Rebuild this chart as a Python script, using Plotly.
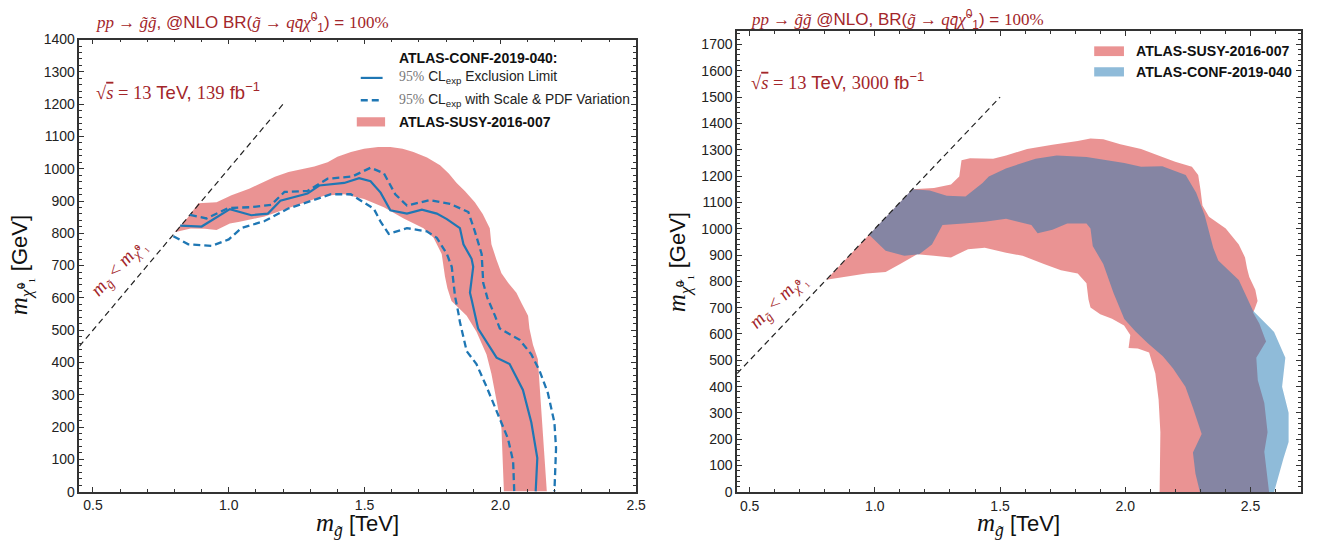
import plotly.graph_objects as go

W, H = 1327, 554

# ---------------- left panel: sqrt(s)=13 TeV, 139 fb^-1 ----------------
# ATLAS-SUSY-2016-007 excluded band (outer edge, then inner edge back to the tip)
left_susy_x = [0.80, 0.85, 0.888, 0.955, 1.010, 1.075, 1.17, 1.22, 1.315, 1.364, 1.40, 1.45,
               1.498, 1.55, 1.595, 1.64, 1.68, 1.73, 1.778, 1.81, 1.839, 1.87, 1.906, 1.935,
               1.961, 1.967, 1.985, 2.004, 2.03, 2.059, 2.08, 2.102, 2.107, 2.12, 2.138, 2.144,
               2.15, 2.156, 2.162, 2.171,
               2.013, 2.01, 2.004, 1.992, 1.98, 1.967, 1.949, 1.912, 1.876, 1.845, 1.82, 1.805,
               1.796, 1.784, 1.754, 1.717, 1.644, 1.571, 1.498, 1.425, 1.351, 1.229, 1.132,
               1.04, 1.004, 0.955, 0.912, 0.86, 0.80]
left_susy_y = [803, 850, 893, 896, 918, 938, 975, 990, 1007, 1020, 1037, 1052,
               1062, 1067, 1067, 1062, 1052, 1035, 1011, 985, 956, 930, 896, 860,
               816, 766, 720, 676, 645, 616, 580, 545, 505, 455, 410, 335,
               260, 195, 94, 0,
               0, 94, 195, 255, 305, 365, 425, 495, 545, 570, 590, 630,
               666, 736, 786, 816, 846, 881, 906, 921, 916, 881, 852,
               836, 830, 810, 814, 815, 803]

# ATLAS-CONF-2019-040 expected exclusion limit
limit_x = [0.821, 0.900, 1.004, 1.083, 1.144, 1.19, 1.29, 1.333, 1.425, 1.48, 1.522, 1.559,
           1.595, 1.656, 1.711, 1.766, 1.803, 1.851, 1.864, 1.894, 1.90, 1.888, 1.894, 1.918,
           1.986, 2.034, 2.083, 2.114, 2.136, 2.13]
limit_y = [824, 821, 875, 856, 861, 901, 923, 948, 956, 971, 961, 926,
           871, 861, 873, 861, 844, 816, 766, 721, 696, 616, 595, 505,
           415, 395, 315, 214, 104, 0]

# expected limit with scale & PDF variation: upper and lower edges
var_hi_x = [0.857, 0.918, 0.998, 1.083, 1.156, 1.205, 1.29, 1.364, 1.455, 1.522, 1.571, 1.613,
            1.656, 1.741, 1.815, 1.882, 1.906, 1.931, 1.937, 1.952, 1.98, 1.998, 2.071, 2.114,
            2.144, 2.175, 2.199, 2.205, 2.199]
var_hi_y = [857, 846, 878, 881, 888, 928, 931, 969, 976, 1003, 986, 921,
            886, 903, 891, 866, 806, 736, 646, 600, 545, 505, 470, 425,
            375, 305, 214, 134, 0]
var_lo_x = [0.796, 0.851, 0.937, 1.0, 1.046, 1.132, 1.217, 1.327, 1.376, 1.449, 1.534, 1.559,
            1.589, 1.656, 1.729, 1.766, 1.803, 1.821, 1.833, 1.845, 1.851, 1.876, 1.912, 1.949,
            1.998, 2.028, 2.047, 2.051]
var_lo_y = [791, 766, 761, 781, 816, 838, 876, 906, 921, 921, 876, 836,
            798, 816, 806, 786, 736, 696, 605, 555, 525, 435, 395, 325,
            225, 164, 94, 0]

# ---------------- right panel: sqrt(s)=13 TeV, 3000 fb^-1 ----------------
right_susy_x = [0.806, 1.15, 1.236, 1.304, 1.337, 1.346, 1.38, 1.472, 1.524, 1.608, 1.709, 1.81,
                1.861, 1.912, 1.98, 2.063, 2.148, 2.199, 2.266, 2.291, 2.30, 2.308, 2.334, 2.401,
                2.453, 2.478, 2.486, 2.495, 2.519, 2.528, 2.516, 2.51, 2.535, 2.562, 2.523, 2.529,
                2.555, 2.568, 2.555, 2.568, 2.574,
                2.137, 2.138, 2.14, 2.133, 2.12, 2.095, 2.05, 2.013, 2.02, 1.995, 1.947, 1.90,
                1.861, 1.853, 1.845, 1.81, 1.743, 1.675, 1.59, 1.524, 1.439, 1.372, 1.304, 1.236,
                1.169, 1.101, 1.043, 0.966, 0.881, 0.806]
right_susy_y = [806, 1150, 1155, 1168, 1198, 1260, 1268, 1266, 1278, 1303, 1319, 1333,
                1343, 1340, 1321, 1303, 1272, 1254, 1235, 1204, 1149, 1088, 1045, 1001,
                940, 891, 850, 817, 768, 725, 694, 682, 640, 571, 510, 424,
                338, 227, 153, 55, 0,
                0, 104, 227, 350, 450, 530, 545, 547, 596, 632, 658, 675,
                701, 731, 793, 830, 842, 866, 897, 909, 928, 922, 891, 897,
                903, 866, 836, 830, 817, 806]

right_conf_x = [0.977, 1.15, 1.219, 1.287, 1.362, 1.43, 1.455, 1.523, 1.642, 1.726, 1.845, 1.996,
                2.063, 2.148, 2.241, 2.283, 2.317, 2.351, 2.371, 2.453, 2.51, 2.594, 2.639, 2.626,
                2.652, 2.652, 2.632, 2.594,
                2.298, 2.28, 2.27, 2.305, 2.27, 2.24, 2.19, 2.15, 2.09, 2.04, 1.996, 1.953,
                1.912, 1.87, 1.861, 1.845, 1.768, 1.709, 1.65, 1.625, 1.524, 1.439, 1.354, 1.27,
                1.228, 1.177, 1.118, 1.043, 0.977]
right_conf_y = [977, 1150, 1145, 1125, 1122, 1174, 1198, 1229, 1266, 1278, 1272, 1250,
                1235, 1237, 1204, 1137, 1051, 928, 879, 805, 688, 608, 510, 400,
                301, 190, 129, 0,
                0, 70, 150, 220, 320, 400, 470, 515, 565, 610, 657, 756,
                866, 934, 1001, 1020, 1020, 996, 983, 1014, 1038, 1026, 1020, 1014,
                940, 903, 897, 916, 977]

# m_gluino = m_neutralino kinematic boundary
diag_left_x, diag_left_y = [0.45, 1.2], [450, 1200]
diag_right_x, diag_right_y = [0.45, 1.5], [450, 1500]

RED_FILL = "rgba(214,39,40,0.5)"
BLUE_FILL = "rgba(31,119,180,0.5)"
BLUE = "#1f77b4"
TXT_RED = "#a3262a"
SERIF = "font-family:Liberation Serif"


def px(x):
    return x / W


def py(y):
    return 1 - y / H


fig = go.Figure()

# left panel traces
fig.add_trace(go.Scatter(x=left_susy_x, y=left_susy_y, fill="toself", fillcolor=RED_FILL,
                         mode="lines", line=dict(width=0, color="rgba(0,0,0,0)"),
                         name="ATLAS-SUSY-2016-007", xaxis="x", yaxis="y"))
fig.add_trace(go.Scatter(x=diag_left_x, y=diag_left_y, mode="lines",
                         line=dict(color="#222", width=1.2, dash="6px,4px"),
                         xaxis="x", yaxis="y"))
fig.add_trace(go.Scatter(x=var_hi_x, y=var_hi_y, mode="lines",
                         line=dict(color=BLUE, width=2.3, dash="7px,4px"),
                         name="95% CL exp with Scale & PDF Variation", xaxis="x", yaxis="y"))
fig.add_trace(go.Scatter(x=var_lo_x, y=var_lo_y, mode="lines",
                         line=dict(color=BLUE, width=2.3, dash="7px,4px"),
                         xaxis="x", yaxis="y"))
fig.add_trace(go.Scatter(x=limit_x, y=limit_y, mode="lines",
                         line=dict(color=BLUE, width=2.2),
                         name="95% CL exp Exclusion Limit", xaxis="x", yaxis="y"))

# right panel traces
fig.add_trace(go.Scatter(x=right_susy_x, y=right_susy_y, fill="toself", fillcolor=RED_FILL,
                         mode="lines", line=dict(width=0, color="rgba(0,0,0,0)"),
                         name="ATLAS-SUSY-2016-007", xaxis="x2", yaxis="y2"))
fig.add_trace(go.Scatter(x=right_conf_x, y=right_conf_y, fill="toself", fillcolor=BLUE_FILL,
                         mode="lines", line=dict(width=0, color="rgba(0,0,0,0)"),
                         name="ATLAS-CONF-2019-040", xaxis="x2", yaxis="y2"))
fig.add_trace(go.Scatter(x=diag_right_x, y=diag_right_y, mode="lines",
                         line=dict(color="#222", width=1.2, dash="6px,4px"),
                         xaxis="x2", yaxis="y2"))

fig.update_traces(showlegend=False, hoverinfo="skip")

axis_style = dict(showline=True, linecolor="#333", linewidth=1.6, mirror="allticks",
                  ticks="inside", ticklen=5, tickwidth=1.1, tickcolor="#333",
                  showgrid=False, zeroline=False,
                  tickfont=dict(family="Liberation Sans", size=14, color="#222"))

fig.update_layout(
    width=W, height=H, margin=dict(l=0, r=0, t=0, b=0),
    paper_bgcolor="white", plot_bgcolor="white", showlegend=False,
    xaxis=dict(domain=[px(80), px(641)], range=[0.45, 2.5], tick0=0.5, dtick=0.5,
               tickformat=".1f", anchor="y",
               minor=dict(ticks="inside", ticklen=3, tickcolor="#333", dtick=0.1, tick0=0.5),
               **axis_style),
    yaxis=dict(domain=[py(498), py(32.5)], range=[0, 1400], dtick=100, anchor="x",
               minor=dict(ticks="inside", ticklen=3, tickcolor="#333", dtick=20),
               **axis_style),
    xaxis2=dict(domain=[px(742.7), px(1310.5)], range=[0.45, 2.7], tick0=0.5, dtick=0.5,
                tickformat=".1f", anchor="y2",
                minor=dict(ticks="inside", ticklen=3, tickcolor="#333", dtick=0.1, tick0=0.5),
                **axis_style),
    yaxis2=dict(domain=[py(498.3), py(24)], range=[0, 1750], dtick=100, anchor="x2",
                minor=dict(ticks="inside", ticklen=3, tickcolor="#333", dtick=20),
                **axis_style),
)

ann = []


def text(x, y, s, size, color="#111", xanchor="left", **kw):
    ann.append(dict(x=x, y=y, text=s, showarrow=False, xanchor=xanchor, yanchor="middle",
                    font=dict(family="Liberation Sans", size=size, color=color), **kw))


g = "g\u0303"
chi = "\u03c7\u0303"
title_l = (f'<span style="{SERIF}"><i>pp</i> \u2192 <i>{g}{g}</i></span>, @NLO BR('
           f'<span style="{SERIF}"><i>{g}</i> \u2192 <i>q</i><i>q\u0304</i><i>{chi}</i></span>'
           f'<sup>0</sup><sub>1</sub>) = <span style="{SERIF}">100%</span>')
title_r = (f'<span style="{SERIF}"><i>pp</i> \u2192 <i>{g}{g}</i></span> @NLO, BR('
           f'<span style="{SERIF}"><i>{g}</i> \u2192 <i>q</i><i>q\u0304</i><i>{chi}</i></span>'
           f'<sup>0</sup><sub>1</sub>) = <span style="{SERIF}">100%</span>')
lumi_l = (f'<span style="{SERIF}">\u221a<span style="text-decoration:overline"><i>s</i></span> = 13</span>'
          f' TeV, <span style="{SERIF}">139</span> fb<sup>\u22121</sup>')
lumi_r = (f'<span style="{SERIF}">\u221a<span style="text-decoration:overline"><i>s</i></span> = 13</span>'
          f' TeV, <span style="{SERIF}">3000</span> fb<sup>\u22121</sup>')

text(px(94.5), py(15), title_l, 17, TXT_RED, xref="paper", yref="paper")
text(px(755), py(12), title_r, 17, TXT_RED, xref="paper", yref="paper")
text(px(94.5), py(85), lumi_l, 18.5, TXT_RED, xref="paper", yref="paper")
text(px(755), py(75), lumi_r, 18.5, TXT_RED, xref="paper", yref="paper")

diag_lbl = (f'<span style="{SERIF}"><i>m</i><sub><i>{g}</i></sub> &lt; '
            f'<i>m</i><sub><i>{chi}</i>\u2070\u2081</sub></span>')
text(0.595, 691, diag_lbl, 19, TXT_RED, xanchor="center", xref="x", yref="y", textangle=-48)
text(0.615, 725, diag_lbl, 19, TXT_RED, xanchor="center", xref="x2", yref="y2", textangle=-45)

# axis titles
xt = f'<span style="{SERIF};font-size:25px"><i>m</i><sub><i>{g}</i></sub></span> [TeV]'
yt = f'<span style="{SERIF};font-size:25px"><i>m</i><sub><i>{chi}</i>\u2070\u2081</sub></span> [GeV]'
text(0.5, py(532), xt, 22, "#111", xanchor="center", xref="x domain", yref="paper")
text(0.5, py(532), xt, 22, "#111", xanchor="center", xref="x2 domain", yref="paper")
text(px(20), py(265), yt, 22, "#111", xanchor="center", xref="paper", yref="paper", textangle=-90)
text(px(684), py(262), yt, 22, "#111", xanchor="center", xref="paper", yref="paper", textangle=-90)

# left-panel key
cl = f'<span style="{SERIF};color:#777">95%</span> CL<sub>exp</sub>'
text(px(400), py(51.5), "<b>ATLAS-CONF-2019-040:</b>", 14, "#111", xref="paper", yref="paper")
text(px(400), py(72), f"{cl} Exclusion Limit", 13.8, "#222", xref="paper", yref="paper")
text(px(400), py(95), f"{cl} with Scale &amp; PDF Variation", 13.8, "#222", xref="paper", yref="paper")
text(px(400), py(117), "<b>ATLAS-SUSY-2016-007</b>", 14, "#111", xref="paper", yref="paper")

# right-panel key
text(px(1143), py(44.5), "<b>ATLAS-SUSY-2016-007</b>", 14.2, "#111", xref="paper", yref="paper")
text(px(1143), py(66), "<b>ATLAS-CONF-2019-040</b>", 14.2, "#111", xref="paper", yref="paper")

shapes = [
    dict(type="line", xref="paper", yref="paper", x0=px(363.5), x1=px(385.5), y0=py(72), y1=py(72),
         line=dict(color=BLUE, width=2.2)),
    dict(type="line", xref="paper", yref="paper", x0=px(363.5), x1=px(385.5), y0=py(95), y1=py(95),
         line=dict(color=BLUE, width=2.3, dash="7px,4px")),
    dict(type="rect", xref="paper", yref="paper", x0=px(359.5), x1=px(388), y0=py(122), y1=py(112.5),
         fillcolor=RED_FILL, line=dict(width=0)),
    dict(type="rect", xref="paper", yref="paper", x0=px(1102.5), x1=px(1132.5), y0=py(49.5), y1=py(39.5),
         fillcolor=RED_FILL, line=dict(width=0)),
    dict(type="rect", xref="paper", yref="paper", x0=px(1102.5), x1=px(1132.5), y0=py(70.5), y1=py(61),
         fillcolor=BLUE_FILL, line=dict(width=0)),
]

fig.update_layout(annotations=ann, shapes=shapes)
fig.write_html("out.html")
